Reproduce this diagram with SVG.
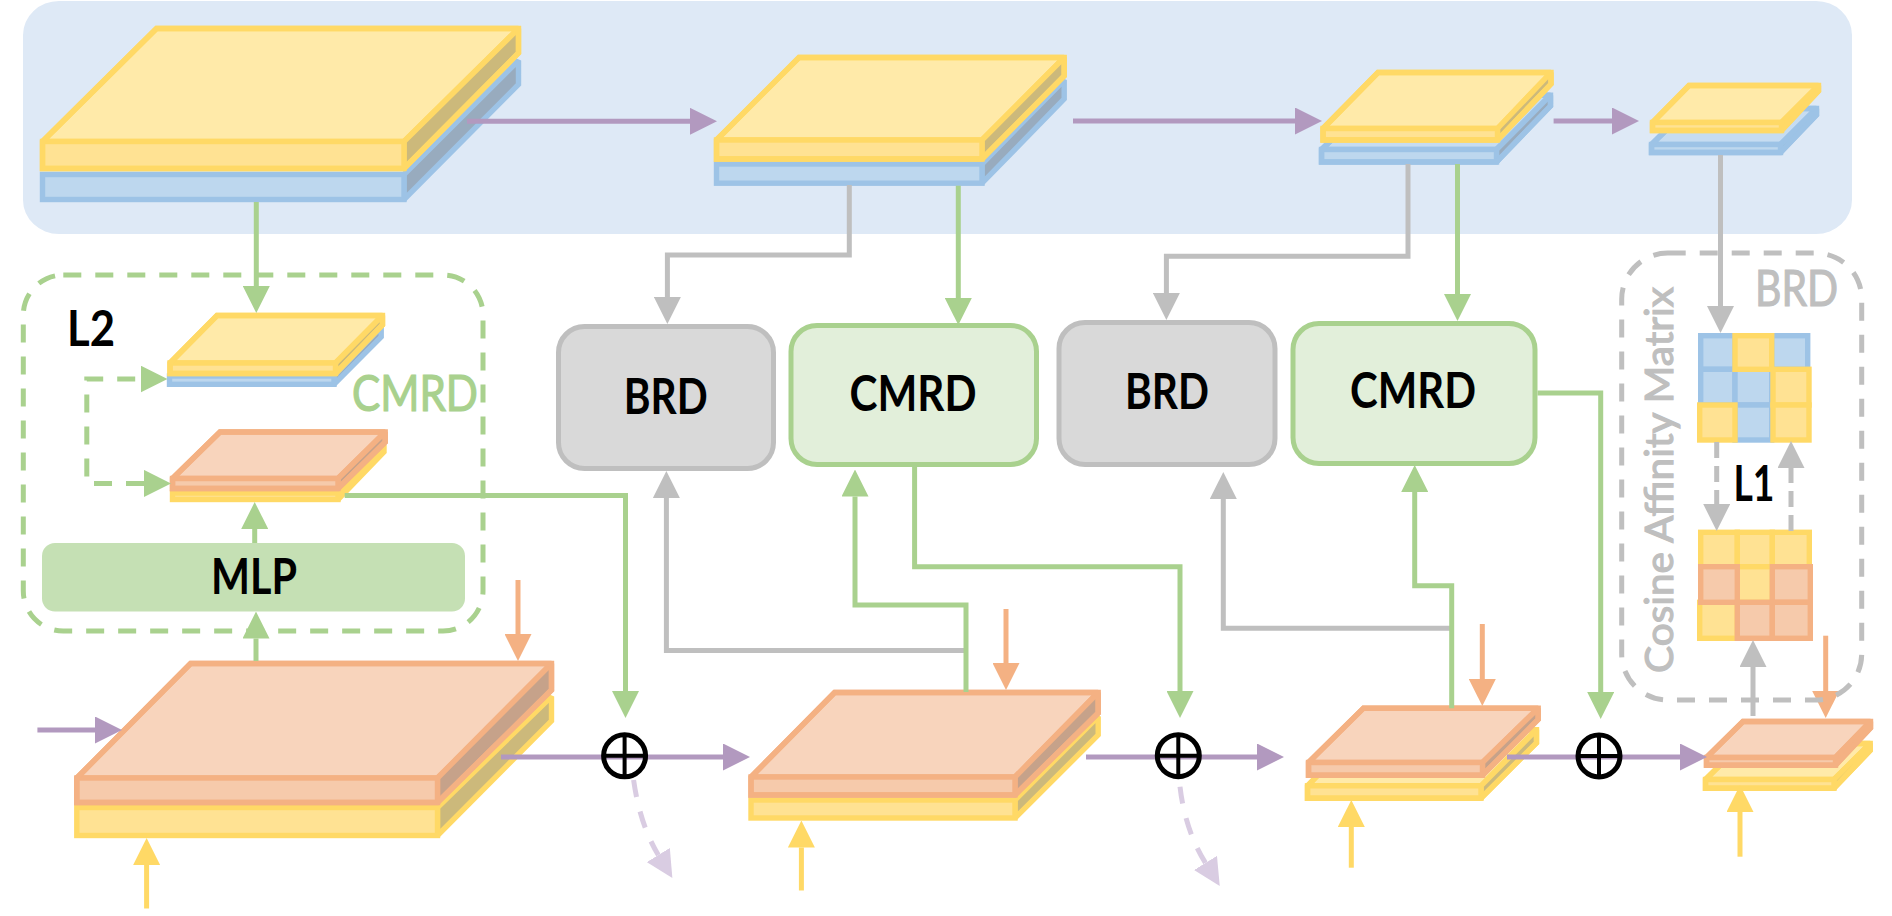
<svg xmlns="http://www.w3.org/2000/svg" width="1892" height="916" viewBox="0 0 1892 916">
<style>
polygon,rect{stroke-miterlimit:2}
.yt{fill:#FFEAA9;stroke:#FFD966;stroke-width:5.4}
.yf{fill:#FFE293;stroke:#FFD966;stroke-width:5.4}
.ys{fill:#CCB97B;stroke:#FFD966;stroke-width:5.4}
.bt{fill:#C6DCF1;stroke:#9DC3E6;stroke-width:5.4}
.bf{fill:#BDD7EE;stroke:#9DC3E6;stroke-width:5.4}
.bs{fill:#98ABBE;stroke:#9DC3E6;stroke-width:5.4}
.ot{fill:#F8D4BC;stroke:#F4B183;stroke-width:5.4}
.of{fill:#F6CAAB;stroke:#F4B183;stroke-width:5.4}
.os{fill:#C6A28A;stroke:#F4B183;stroke-width:5.4}
.yl,.bl,.ol{fill:none;stroke-width:5.4;stroke-miterlimit:4}
.yl{stroke:#FFD966}
.bl{stroke:#9DC3E6}
.ol{stroke:#F4B183}
.box{stroke-width:5}
.gb{fill:#D9D9D9;stroke:#BFBFBF}
.cb{fill:#E2EFDA;stroke:#A9D18E}
.c{fill:none;stroke-width:5;stroke-linejoin:miter}
.pu{stroke:#B299BF;marker-end:url(#hp)}
.gr{stroke:#A9D18E;marker-end:url(#hg)}
.gy{stroke:#BFBFBF;marker-end:url(#hy)}
.or{stroke:#F4B183;marker-end:url(#ho)}
.ye{stroke:#FFD966;marker-end:url(#hl)}
.li{stroke:#D9CCE2;marker-end:url(#hi);stroke-dasharray:17 15}
.sd{stroke-dasharray:16 8}
.gd{stroke-dasharray:18 14;marker-start:url(#hgs)}
.dbox{fill:none;stroke-width:5;stroke-dasharray:18 14}
.ring{fill:none;stroke:#000;stroke-width:5}
.cross{stroke:#000;stroke-width:4}
text{font-family:"Lato","Open Sans",sans-serif;font-size:50px;text-anchor:middle}
.k{fill:#000;font-weight:700}
.t{font-weight:400;stroke-width:1.2}
</style>
<defs>
<marker id="hp" markerUnits="userSpaceOnUse" markerWidth="27" markerHeight="27" refX="0" refY="13.5" orient="auto"><polygon points="0,0 27,13.5 0,27" fill="#B299BF"/></marker>
<marker id="hg" markerUnits="userSpaceOnUse" markerWidth="27" markerHeight="27" refX="0" refY="13.5" orient="auto"><polygon points="0,0 27,13.5 0,27" fill="#A9D18E"/></marker>
<marker id="hgs" markerUnits="userSpaceOnUse" markerWidth="27" markerHeight="27" refX="0" refY="13.5" orient="auto-start-reverse"><polygon points="0,0 27,13.5 0,27" fill="#A9D18E"/></marker>
<marker id="hy" markerUnits="userSpaceOnUse" markerWidth="27" markerHeight="27" refX="0" refY="13.5" orient="auto"><polygon points="0,0 27,13.5 0,27" fill="#BFBFBF"/></marker>
<marker id="ho" markerUnits="userSpaceOnUse" markerWidth="27" markerHeight="27" refX="0" refY="13.5" orient="auto"><polygon points="0,0 27,13.5 0,27" fill="#F4B183"/></marker>
<marker id="hl" markerUnits="userSpaceOnUse" markerWidth="27" markerHeight="27" refX="0" refY="13.5" orient="auto"><polygon points="0,0 27,13.5 0,27" fill="#FFD966"/></marker>
<marker id="hi" markerUnits="userSpaceOnUse" markerWidth="27" markerHeight="27" refX="0" refY="13.5" orient="auto"><polygon points="0,0 27,13.5 0,27" fill="#D9CCE2"/></marker>
</defs>
<rect id="encoder-band" x="23" y="1" width="1829" height="233" rx="36" ry="34" fill="#DEE9F6"/>
<g id="enc-1">
<polygon class="bs" points="404,174.5 518.5,60.5 518.5,84.5 404,199.5"/><rect class="bf" x="42.5" y="174.5" width="361.5" height="25"/>
<polygon class="yt" points="42.5,141.5 156.5,28.5 518.5,28.5 404,141.5"/><polygon class="ys" points="404,141.5 518.5,28.5 518.5,53 404,168.5"/><rect class="yf" x="42.5" y="141.5" width="361.5" height="27"/>
<polygon class="yl" points="42.5,141.5 156.5,28.5 518.5,28.5 518.5,53 404,168.5 42.5,168.5"/>
</g>
<g id="enc-2">
<polygon class="bs" points="982,164 1064.2,80 1064.2,99 982,183.2"/><rect class="bf" x="716.5" y="164" width="265.5" height="19.2"/>
<polygon class="yt" points="716.5,140 799,57.5 1064.2,57.5 982,140"/><polygon class="ys" points="982,140 1064.2,57.5 1064.2,76 982,159"/><rect class="yf" x="716.5" y="140" width="265.5" height="19"/>
<polygon class="yl" points="716.5,140 799,57.5 1064.2,57.5 1064.2,76 982,159 716.5,159"/>
</g>
<g id="enc-3">
<polygon class="bt" points="1321.5,149.5 1378,95.2 1550.5,95.2 1496.5,149.5"/><polygon class="bs" points="1496.5,149.5 1550.5,95.2 1550.5,106 1496.5,162"/><rect class="bf" x="1321.5" y="149.5" width="175" height="12.5"/>
<polygon class="bl" points="1321.5,149.5 1378,95.2 1550.5,95.2 1550.5,106 1496.5,162 1321.5,162"/>
<polygon class="yt" points="1323,128.5 1378,72.5 1551,72.5 1497.5,128.5"/><polygon class="ys" points="1497.5,128.5 1551,72.5 1551,84 1497.5,140"/><rect class="yf" x="1323" y="128.5" width="174.5" height="11.5"/>
<polygon class="yl" points="1323,128.5 1378,72.5 1551,72.5 1551,84 1497.5,140 1323,140"/>
</g>
<g id="enc-4">
<polygon class="bt" points="1651.5,144.5 1688,108.5 1816.5,108.5 1780.5,144.5"/><polygon class="bs" points="1780.5,144.5 1816.5,108.5 1816.5,115 1780.5,152.5"/><rect class="bf" x="1651.5" y="144.5" width="129" height="8"/>
<polygon class="bl" points="1651.5,144.5 1688,108.5 1816.5,108.5 1816.5,115 1780.5,152.5 1651.5,152.5"/>
<polygon class="yt" points="1652.5,122.5 1689,85.5 1818.5,85.5 1781.5,122.5"/><polygon class="ys" points="1781.5,122.5 1818.5,85.5 1818.5,91 1781.5,130.5"/><rect class="yf" x="1652.5" y="122.5" width="129" height="8"/>
<polygon class="yl" points="1652.5,122.5 1689,85.5 1818.5,85.5 1818.5,91 1781.5,130.5 1652.5,130.5"/>
</g>
<g id="cmrd-yellow-slab">
<polygon class="bs" points="334,376 381.2,327 381.2,337 334,384.3"/><rect class="bf" x="169.5" y="376" width="164.5" height="8.3"/>
<polygon class="yt" points="170,363 217,315.5 382.5,315.5 335.5,363"/><polygon class="ys" points="335.5,363 382.5,315.5 382.5,325 335.5,373.5"/><rect class="yf" x="170" y="363" width="165.5" height="10.5"/>
<polygon class="yl" points="170,363 217,315.5 382.5,315.5 382.5,325 335.5,373.5 170,373.5"/>
</g>
<g id="cmrd-orange-slab">
<polygon class="ys" points="338,493 384,445 384,452 338,499.5"/><rect class="yf" x="172.5" y="493" width="165.5" height="6.5"/>
<polygon class="ot" points="172.5,478.5 220,432 385.2,432 338,478.5"/><polygon class="os" points="338,478.5 385.2,432 385.2,442 338,488.5"/><rect class="of" x="172.5" y="478.5" width="165.5" height="10"/>
<polygon class="ol" points="172.5,478.5 220,432 385.2,432 385.2,442 338,488.5 172.5,488.5"/>
</g>
<g id="dec-1">
<polygon class="ys" points="437.5,807.5 551.5,696.5 551.5,721 437.5,835.5"/><rect class="yf" x="76.8" y="807.5" width="360.7" height="28"/>
<polygon class="ot" points="76.8,778 190.6,663.5 551.5,663.5 437.5,778"/><polygon class="os" points="437.5,778 551.5,663.5 551.5,690 437.5,802.5"/><rect class="of" x="76.8" y="778" width="360.7" height="24.5"/>
<polygon class="ol" points="76.8,778 190.6,663.5 551.5,663.5 551.5,690 437.5,802.5 76.8,802.5"/>
</g>
<g id="dec-2">
<polygon class="ys" points="1015,800 1098.2,716.5 1098.2,735 1015,818"/><rect class="yf" x="751" y="800" width="264" height="18"/>
<polygon class="ot" points="751,777 834.6,692.5 1098.2,692.5 1015,777"/><polygon class="os" points="1015,777 1098.2,692.5 1098.2,713 1015,795"/><rect class="of" x="751" y="777" width="264" height="18"/>
<polygon class="ol" points="751,777 834.6,692.5 1098.2,692.5 1098.2,713 1015,795 751,795"/>
</g>
<g id="dec-3">
<polygon class="yt" points="1307.5,785.8 1362,729.8 1536.5,729.8 1481,785.8"/><polygon class="ys" points="1481,785.8 1536.5,729.8 1536.5,742.8 1481,798.2"/><rect class="yf" x="1307.5" y="785.8" width="173.5" height="12.4"/>
<polygon class="yl" points="1307.5,785.8 1362,729.8 1536.5,729.8 1536.5,742.8 1481,798.2 1307.5,798.2"/>
<polygon class="ot" points="1308.5,762.5 1363.5,708.2 1538.2,708.2 1482.5,762.5"/><polygon class="os" points="1482.5,762.5 1538.2,708.2 1538.2,719.5 1482.5,775.2"/><rect class="of" x="1308.5" y="762.5" width="174" height="12.7"/>
<polygon class="ol" points="1308.5,762.5 1363.5,708.2 1538.2,708.2 1538.2,719.5 1482.5,775.2 1308.5,775.2"/>
</g>
<g id="dec-4">
<polygon class="yt" points="1705.5,779.5 1742,743.5 1870.2,743.5 1834,779.5"/><polygon class="ys" points="1834,779.5 1870.2,743.5 1870.2,750.5 1834,788.2"/><rect class="yf" x="1705.5" y="779.5" width="128.5" height="8.7"/>
<polygon class="yl" points="1705.5,779.5 1742,743.5 1870.2,743.5 1870.2,750.5 1834,788.2 1705.5,788.2"/>
<polygon class="ot" points="1706.5,757.5 1743,721.5 1870.5,721.5 1835.5,757.5"/><polygon class="os" points="1835.5,757.5 1870.5,721.5 1870.5,728 1835.5,765.2"/><rect class="of" x="1706.5" y="757.5" width="129" height="7.7"/>
<polygon class="ol" points="1706.5,757.5 1743,721.5 1870.5,721.5 1870.5,728 1835.5,765.2 1706.5,765.2"/>
</g>
<g id="matrix-top">
<rect class="bf" x="1700.7" y="335.7" width="34.3" height="33.6"/><rect class="bf" x="1771.7" y="335.7" width="36" height="33.6"/>
<rect class="bf" x="1700.7" y="369.3" width="34.3" height="35.7"/><rect class="bf" x="1735" y="369.3" width="36.7" height="35.7"/>
<rect class="bf" x="1735" y="405" width="36.7" height="35"/>
<rect class="yf" x="1735" y="335.7" width="36.7" height="33.6"/>
<rect class="yf" x="1773" y="369.3" width="36" height="35.7"/><rect class="yf" x="1773" y="405" width="36" height="35"/>
<rect class="yf" x="1699.7" y="405" width="35.3" height="35"/>
</g>
<g id="matrix-bottom">
<rect class="yf" x="1700.7" y="532.3" width="36.6" height="34.4"/><rect class="yf" x="1737.3" y="532.3" width="35" height="34.4"/><rect class="yf" x="1772.3" y="532.3" width="37" height="34.4"/>
<rect class="yf" x="1737.3" y="566.7" width="35" height="35.6"/><rect class="yf" x="1699.7" y="602.3" width="37.6" height="36"/>
<rect class="of" x="1700.7" y="566.7" width="36.6" height="35.6"/><rect class="of" x="1772.3" y="566.7" width="38" height="35.6"/>
<rect class="of" x="1737.3" y="602.3" width="35" height="36"/><rect class="of" x="1772.3" y="602.3" width="38" height="36"/>
</g>
<g id="brd-1"><rect class="box gb" x="558.5" y="326.5" width="215" height="142" rx="26"/><text class="k" x="665.7" y="413.7" textLength="84" lengthAdjust="spacingAndGlyphs">BRD</text></g>
<g id="cmrd-1"><rect class="box cb" x="791" y="325.5" width="245.5" height="139" rx="26"/><text class="k" x="913" y="411" textLength="127" lengthAdjust="spacingAndGlyphs">CMRD</text></g>
<g id="brd-2"><rect class="box gb" x="1059" y="322.5" width="216" height="142" rx="26"/><text class="k" x="1167" y="409" textLength="84" lengthAdjust="spacingAndGlyphs">BRD</text></g>
<g id="cmrd-2"><rect class="box cb" x="1293" y="323.5" width="242" height="140" rx="26"/><text class="k" x="1413" y="408" textLength="126" lengthAdjust="spacingAndGlyphs">CMRD</text></g>
<g id="mlp"><rect x="42" y="543" width="423" height="68.5" rx="13" fill="#C5E0B4"/><text class="k" x="254" y="594" textLength="86" lengthAdjust="spacingAndGlyphs">MLP</text></g>
<g id="connectors">
<path class="c pu" d="M467 121.3H690"/>
<path class="c pu" d="M1073 121H1295"/>
<path class="c pu" d="M1553.6 121H1612"/>
<path class="c pu" d="M37.4 730H95"/>
<path class="c pu" d="M501 757H723"/>
<path class="c pu" d="M1086 757H1257"/>
<path class="c pu" d="M1507 757H1680"/>
<path class="c gr" d="M256.3 202V286"/>
<path class="c gy" d="M849.3 185V255H667.4V297"/>
<path class="c gr" d="M958.3 185.7V298"/>
<path class="c gy" d="M1408 164V256.3H1166.4V293"/>
<path class="c gr" d="M1457.5 164V294"/>
<path class="c gy" d="M1720.5 155V306"/>
<path class="c gr" d="M344.7 495.6H625.5V691"/>
<path class="c gr" d="M254.7 543V529"/>
<path class="c gr" d="M256 661V638.5"/>
<path class="c or" d="M518 580V634"/>
<path class="c gr gd" d="M144 483.4H86.8V379H140.5"/>
<path class="c gy" d="M964 650.6H666.4V498"/>
<path class="c gr" d="M966 692V605H855V496.5"/>
<path class="c gr" d="M914.6 467V566.7H1180V691"/>
<path class="c or" d="M1006 609V663"/>
<path class="c ye" d="M146.6 908.5V865"/>
<path class="c ye" d="M801.4 890.5V847.5"/>
<path class="c ye" d="M1351.3 867.7V827"/>
<path class="c gy" d="M1450 628.3H1223.3V499"/>
<path class="c gr" d="M1451.7 708.3V585.7H1414.7V492"/>
<path class="c or" d="M1482.3 624V679"/>
<path class="c gr" d="M1537.5 393H1600.7V692"/>
<path class="c ye" d="M1740 856.7V812"/>
<path class="c gy" d="M1753 716V667"/>
<path class="c or" d="M1825.7 635.7V691"/>
<path class="c gy sd" d="M1716.7 442V504"/>
<path class="c gy sd" d="M1791 531V468"/>
<path class="c li" d="M633.6 780Q640 825 658.3 855"/>
<path class="c li" d="M1180 786.7Q1185 830 1205.5 863"/>
</g>
<g id="sum-1"><circle class="ring" cx="624.6" cy="755.8" r="21"/><path class="cross" d="M603.6 755.8H645.6M624.6 734.8V776.8"/></g>
<g id="sum-2"><circle class="ring" cx="1178.3" cy="755.7" r="21"/><path class="cross" d="M1157.3 755.7H1199.3M1178.3 734.7V776.7"/></g>
<g id="sum-3"><circle class="ring" cx="1599" cy="756" r="21"/><path class="cross" d="M1578 756H1620M1599 735V777"/></g>
<g id="cmrd-group"><rect class="dbox" x="23.3" y="275" width="459.7" height="356" rx="40" stroke="#A9D18E"/>
<text class="k" x="91" y="346" textLength="48" lengthAdjust="spacingAndGlyphs">L2</text>
<text class="t" x="415" y="410.6" fill="#A9D18E" stroke="#A9D18E" textLength="126" lengthAdjust="spacingAndGlyphs">CMRD</text></g>
<g id="brd-group"><rect class="dbox" x="1621.7" y="253" width="240" height="447" rx="46" stroke="#BFBFBF"/>
<text class="t" x="1796.5" y="306" fill="#BFBFBF" stroke="#BFBFBF" textLength="83" lengthAdjust="spacingAndGlyphs">BRD</text>
<text class="t" transform="translate(1672.7 673) rotate(-90)" style="font-size:38px;text-anchor:start" fill="#BFBFBF" stroke="#BFBFBF" textLength="386" lengthAdjust="spacingAndGlyphs">Cosine Affinity Matrix</text>
<text class="k" x="1754" y="501" textLength="41" lengthAdjust="spacingAndGlyphs">L1</text></g>
</svg>
